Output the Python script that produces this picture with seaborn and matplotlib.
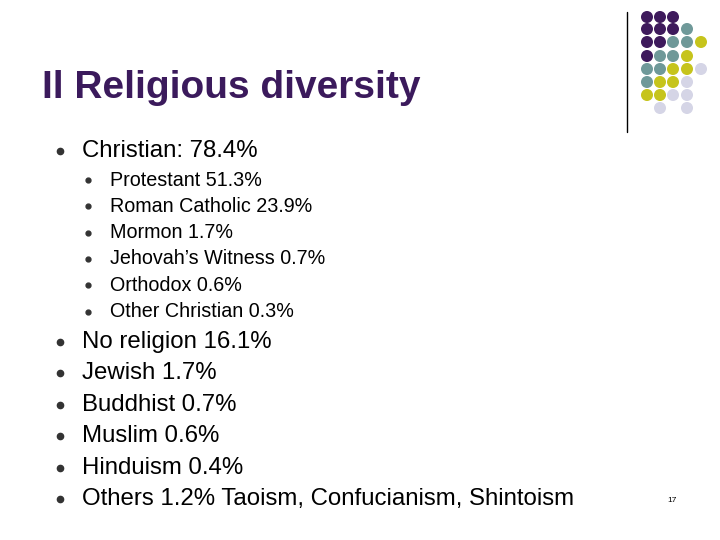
import matplotlib
matplotlib.use("Agg")
import matplotlib.pyplot as plt
import seaborn as sns
import pandas as pd

sns.set_style("white")
plt.rcParams['font.family'] = ['Liberation Sans', 'DejaVu Sans']

title = "Il Religious diversity"
level1_top = ["Christian: 78.4%"]
level2 = ["Protestant 51.3%", "Roman Catholic 23.9%", "Mormon 1.7%",
          "Jehovah’s Witness 0.7%", "Orthodox 0.6%", "Other Christian 0.3%"]
level1_rest = ["No religion 16.1%", "Jewish 1.7%", "Buddhist 0.7%", "Muslim 0.6%",
               "Hinduism 0.4%", "Others 1.2% Taoism, Confucianism, Shintoism"]
page = "17"

grid_rows = ["PPP..", "PPPT.", "PPTTY", "PTTY.", "TTYYL", "TYYL.", "YYLL.", ".L.L."]
palette = {"P": "#3e1a5c", "T": "#6f9999", "Y": "#c6c41c", "L": "#d5d5e6"}

fig = plt.figure(figsize=(7.2, 5.4), dpi=100)
ax = fig.add_axes([0, 0, 1, 1])
ax.set_xlim(0, 720); ax.set_ylim(540, 0); ax.axis("off")

xs = [647, 660, 673, 687, 701]
ys = [17, 29, 42, 56, 69, 82, 95, 108]
recs = [dict(x=xs[c], y=ys[r], k=ch) for r, row in enumerate(grid_rows)
        for c, ch in enumerate(row) if ch != "."]
df = pd.DataFrame(recs)
sns.scatterplot(data=df, x="x", y="y", hue="k", palette=palette, s=75,
                linewidth=0, legend=False, ax=ax)
ax.plot([627, 627], [12, 132], color="black", lw=1)

ax.text(42, 88, title, fontsize=28, fontweight="bold", color="#3b1a5c", va="center")

def bullet(x, y, s):
    ax.plot(x, y, "o", color="#333333", ms=s)

for t in level1_top:
    bullet(60, 151, 4.5); ax.text(82, 151, t, fontsize=17.3, va="center", color="black")
for i, t in enumerate(level2):
    yy = 180 + i * 26.3
    bullet(88, yy, 3.5); ax.text(110, yy, t, fontsize=14.2, va="center", color="black")
for i, t in enumerate(level1_rest):
    yy = 342 + i * 31.4
    bullet(60, yy, 4.5); ax.text(82, yy, t, fontsize=17.3, va="center", color="black")
ax.text(672, 500, page, fontsize=6, va="center", ha="center", color="black")

fig.savefig("out.png", dpi=100)
